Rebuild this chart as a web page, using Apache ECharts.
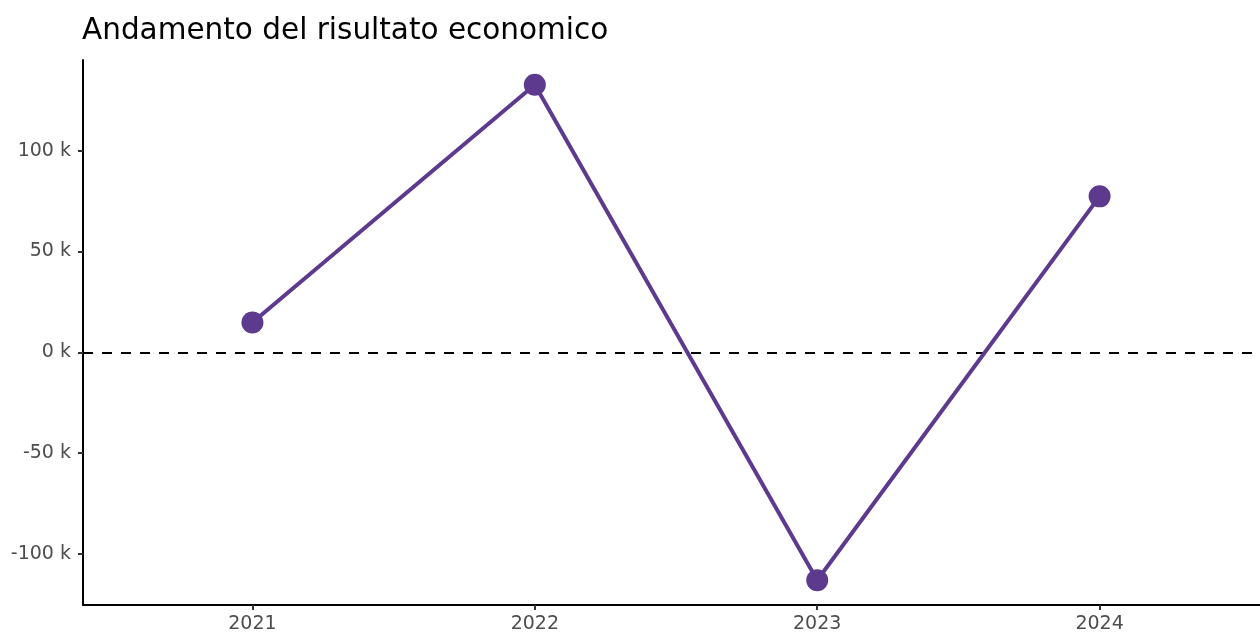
<!DOCTYPE html>
<html>
<head>
<meta charset="utf-8">
<script src="https://cdn.jsdelivr.net/npm/echarts@6/dist/echarts.min.js"></script>
<style>html,body{margin:0;padding:0;background:#fff}#c{width:1260px;height:634px}</style>
</head>
<body>
<div id="c"></div>
<script>
const years = [2021, 2022, 2023, 2024];
const risultato = [14800, 132600, -113000, 77300];
const yTicks = [-100000, -50000, 0, 50000, 100000];
const titleText = 'Andamento del risultato economico';

const chart = echarts.init(document.getElementById('c'));
const font = 'DejaVu Sans';
chart.setOption({
  backgroundColor: '#ffffff',
  animation: false,
  title: {
    text: titleText, left: 77, top: 11,
    textStyle: {fontFamily: font, fontSize: 29.5, fontWeight: 'normal', color: '#000'}
  },
  grid: {left: 83, right: 0, top: 60, bottom: 27.5},
  xAxis: {
    type: 'value', min: 2020.4, max: 2024.568,
    axisLine: {show: true, onZero: false, lineStyle: {color: '#000', width: 2}},
    axisTick: {show: true, length: 5, customValues: years, lineStyle: {color: '#333', width: 2}},
    axisLabel: {customValues: years, fontFamily: font, fontSize: 19, color: '#4d4d4d', margin: 10,
      formatter: v => String(v)},
    splitLine: {show: false}
  },
  yAxis: {
    type: 'value', min: -125300, max: 144900,
    axisLine: {show: true, lineStyle: {color: '#000', width: 2}},
    axisTick: {show: true, length: 5, customValues: yTicks, lineStyle: {color: '#333', width: 2}},
    axisLabel: {customValues: yTicks, fontFamily: font, fontSize: 19, color: '#4d4d4d', margin: 12,
      formatter: v => (v / 1000) + ' k'},
    splitLine: {show: false}
  },
  series: [{
    type: 'line',
    data: years.map((y, i) => [y, risultato[i]]),
    lineStyle: {color: '#5E3A8E', width: 4},
    itemStyle: {color: '#5E3A8E'},
    symbol: 'circle', symbolSize: 22, showSymbol: true,
    z: 3,
    markLine: {
      silent: true, symbol: ['none', 'none'], label: {show: false},
      lineStyle: {color: '#000', type: [10, 9], width: 2},
      data: [{yAxis: 0}],
      z: 2
    }
  }]
});
</script>
</body>
</html>
